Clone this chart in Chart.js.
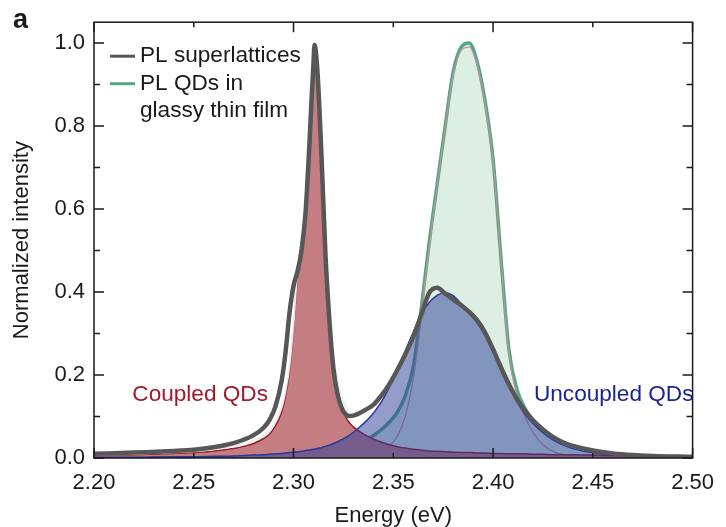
<!DOCTYPE html>
<html>
<head>
<meta charset="utf-8">
<title>PL spectra</title>
<script src="https://cdn.jsdelivr.net/npm/chart.js@4.4.1/dist/chart.umd.min.js"></script>
<style>
  html, body { margin: 0; padding: 0; background: #fff; }
</style>
</head>
<body>
<canvas id="pl-chart" width="726" height="527"></canvas>
<script>
// energy grid (eV), denser around the two peaks
const energies = [
  2.200, 2.220, 2.240, 2.250, 2.260, 2.270, 2.275, 2.280, 2.285, 2.288,
  2.291, 2.294, 2.296, 2.298, 2.300, 2.302, 2.304, 2.306, 2.308, 2.309,
  2.310, 2.3105, 2.312, 2.314, 2.316, 2.318, 2.320, 2.322, 2.324, 2.326,
  2.328, 2.330, 2.333, 2.336, 2.340, 2.344, 2.348, 2.352, 2.356, 2.360,
  2.364, 2.368, 2.372, 2.376, 2.380, 2.384, 2.388, 2.392, 2.396, 2.400,
  2.404, 2.408, 2.412, 2.416, 2.420, 2.425, 2.430, 2.435, 2.440, 2.450,
  2.460, 2.470, 2.480, 2.500
];

// PL superlattices (measured)
const plSuperlattice = [
  0.010, 0.013, 0.017, 0.020, 0.026, 0.036, 0.044, 0.055, 0.073, 0.092,
  0.125, 0.185, 0.255, 0.350, 0.415, 0.450, 0.500, 0.590, 0.760, 0.860,
  0.950, 0.995, 0.930, 0.730, 0.490, 0.330, 0.215, 0.155, 0.122, 0.106,
  0.101, 0.102, 0.108, 0.116, 0.128, 0.150, 0.178, 0.212, 0.250, 0.292,
  0.345, 0.398, 0.410, 0.396, 0.382, 0.368, 0.352, 0.332, 0.302, 0.262,
  0.218, 0.177, 0.142, 0.114, 0.091, 0.069, 0.051, 0.038, 0.029, 0.018,
  0.011, 0.007, 0.005, 0.003
];

// sum of the two fitted components
const fitSum = [
  0.008, 0.010, 0.014, 0.016, 0.021, 0.028, 0.034, 0.042, 0.055, 0.067,
  0.088, 0.121, 0.162, 0.223, 0.324, 0.455, 0.516, 0.618, 0.789, 0.890,
  0.970, 1.000, 0.950, 0.765, 0.538, 0.381, 0.250, 0.190, 0.150, 0.125,
  0.110, 0.104, 0.106, 0.114, 0.125, 0.147, 0.175, 0.209, 0.247, 0.289,
  0.342, 0.392, 0.404, 0.394, 0.380, 0.366, 0.350, 0.330, 0.300, 0.260,
  0.216, 0.175, 0.140, 0.112, 0.089, 0.067, 0.049, 0.036, 0.027, 0.016,
  0.010, 0.006, 0.004, 0.002
];

// coupled QDs component
const coupledQDs = [
  0.006, 0.008, 0.011, 0.013, 0.017, 0.023, 0.028, 0.035, 0.047, 0.058,
  0.078, 0.110, 0.150, 0.210, 0.310, 0.440, 0.500, 0.600, 0.770, 0.870,
  0.950, 0.985, 0.930, 0.740, 0.510, 0.350, 0.245, 0.170, 0.127, 0.100,
  0.085, 0.075, 0.064, 0.055, 0.046, 0.038, 0.032, 0.027, 0.024, 0.021,
  0.019, 0.017, 0.016, 0.015, 0.014, 0.013, 0.013, 0.012, 0.012, 0.011,
  0.011, 0.010, 0.010, 0.010, 0.009, 0.009, 0.008, 0.008, 0.008, 0.007,
  0.006, 0.006, 0.005, 0.005
];

// uncoupled QDs component
const uncoupledQDs = [
  0.002, 0.002, 0.003, 0.003, 0.004, 0.005, 0.006, 0.007, 0.008, 0.009,
  0.010, 0.011, 0.012, 0.013, 0.014, 0.015, 0.016, 0.018, 0.019, 0.020,
  0.021, 0.021, 0.023, 0.025, 0.028, 0.031, 0.035, 0.039, 0.044, 0.049,
  0.055, 0.062, 0.074, 0.087, 0.108, 0.135, 0.170, 0.210, 0.258, 0.303,
  0.345, 0.375, 0.392, 0.398, 0.391, 0.372, 0.350, 0.326, 0.296, 0.256,
  0.212, 0.171, 0.136, 0.106, 0.083, 0.061, 0.044, 0.032, 0.023, 0.013,
  0.008, 0.005, 0.003, 0.002
];

// PL QDs in glassy thin film (measured)
const plGlassyFilm = [
  0.002, 0.002, 0.003, 0.003, 0.004, 0.005, 0.005, 0.006, 0.007, 0.007,
  0.008, 0.008, 0.009, 0.009, 0.010, 0.011, 0.012, 0.013, 0.014, 0.014,
  0.015, 0.015, 0.016, 0.017, 0.018, 0.020, 0.022, 0.024, 0.026, 0.028,
  0.030, 0.033, 0.037, 0.043, 0.054, 0.068, 0.086, 0.110, 0.150, 0.220,
  0.360, 0.520, 0.660, 0.800, 0.930, 0.990, 1.000, 0.955, 0.860, 0.720,
  0.480, 0.260, 0.165, 0.120, 0.090, 0.066, 0.049, 0.037, 0.028, 0.017,
  0.010, 0.006, 0.004, 0.002
];

// fit of the glassy film spectrum
const glassyFit = [
  0.000, 0.000, 0.000, 0.000, 0.000, 0.000, 0.000, 0.000, 0.000, 0.000,
  0.000, 0.000, 0.000, 0.000, 0.001, 0.001, 0.001, 0.001, 0.001, 0.001,
  0.001, 0.001, 0.002, 0.002, 0.002, 0.002, 0.003, 0.003, 0.004, 0.004,
  0.005, 0.006, 0.007, 0.009, 0.013, 0.019, 0.030, 0.052, 0.100, 0.190,
  0.345, 0.510, 0.655, 0.795, 0.922, 0.982, 0.990, 0.948, 0.852, 0.715,
  0.475, 0.250, 0.150, 0.100, 0.062, 0.032, 0.016, 0.008, 0.004, 0.001,
  0.000, 0.000, 0.000, 0.000
];

const xTicks = [2.20, 2.25, 2.30, 2.35, 2.40, 2.45, 2.50];
const yTicks = [0.0, 0.2, 0.4, 0.6, 0.8, 1.0];
const yMinorTicks = [0.1, 0.3, 0.5, 0.7, 0.9];

const FONT = '"Liberation Sans", Arial, Helvetica, sans-serif';
const INK = '#1a1a1a';

const toPoints = (vals) => vals.map((v, i) => ({ x: energies[i], y: v }));

const lineBase = {
  pointRadius: 0,
  pointHoverRadius: 0,
  cubicInterpolationMode: 'monotone',
  fill: false
};

// index 0 is painted last, i.e. on top
const datasets = [
  { ...lineBase, label: ['PL superlattices'], legend: true,
    data: toPoints(plSuperlattice), borderColor: '#575757', borderWidth: 4.5 },
  { ...lineBase, label: 'Fit sum',
    data: toPoints(fitSum), borderColor: 'rgba(238,238,238,0.95)', borderWidth: 2 },
  { ...lineBase, label: 'Uncoupled QDs',
    data: toPoints(uncoupledQDs), borderColor: '#2a36a3', borderWidth: 1.5,
    fill: 'origin', backgroundColor: 'rgba(40,60,150,0.5)' },
  { ...lineBase, label: 'Coupled QDs',
    data: toPoints(coupledQDs), borderColor: '#9b1b2a', borderWidth: 1.5,
    fill: 'origin', backgroundColor: '#c47d80' },
  { ...lineBase, label: 'Glassy fit',
    data: toPoints(glassyFit), borderColor: '#c4909c', borderWidth: 1.2 },
  { ...lineBase, label: ['PL QDs in', 'glassy thin film'], legend: true,
    data: toPoints(plGlassyFilm), borderColor: '#55a885', borderWidth: 3.5,
    fill: 'origin', backgroundColor: '#dcefe2' }
];

// text placed in data coordinates
const regionLabels = [
  { text: 'Coupled QDs', x: 2.2192, y: 0.152, color: '#a3192b' },
  { text: 'Uncoupled QDs', x: 2.4205, y: 0.152, color: '#1c2490' }
];

const frameAndLabels = {
  id: 'frameAndLabels',
  afterDraw(chart) {
    const { ctx, chartArea: a, scales: { x, y } } = chart;
    ctx.save();

    // box
    ctx.strokeStyle = INK;
    ctx.lineWidth = 1.5;
    ctx.strokeRect(a.left, a.top, a.right - a.left, a.bottom - a.top);

    // inward ticks on all four sides
    ctx.beginPath();
    xTicks.forEach((v) => {
      const px = x.getPixelForValue(v);
      const len = Math.round(v * 100) % 10 === 0 ? 10 : 5;
      ctx.moveTo(px, a.bottom); ctx.lineTo(px, a.bottom - len);
      ctx.moveTo(px, a.top); ctx.lineTo(px, a.top + len);
    });
    const yTick = (v, len) => {
      const py = y.getPixelForValue(v);
      ctx.moveTo(a.left, py); ctx.lineTo(a.left + len, py);
      ctx.moveTo(a.right, py); ctx.lineTo(a.right - len, py);
    };
    yTicks.forEach((v) => yTick(v, 10));
    yMinorTicks.forEach((v) => yTick(v, 6));
    ctx.stroke();

    // legend, upper left inside the box
    ctx.font = '22.6px ' + FONT;
    ctx.textBaseline = 'middle';
    ctx.textAlign = 'left';
    let rowY = a.top + 34;
    const lx = a.left + 16;
    chart.data.datasets.filter((d) => d.legend).forEach((d) => {
      ctx.strokeStyle = d.borderColor;
      ctx.lineWidth = 3;
      ctx.beginPath();
      ctx.moveTo(lx, rowY); ctx.lineTo(lx + 25, rowY);
      ctx.stroke();
      ctx.fillStyle = INK;
      d.label.forEach((line) => {
        ctx.fillText(line, lx + 30, rowY);
        rowY += 27.5;
      });
    });

    // component names
    regionLabels.forEach((r) => {
      ctx.fillStyle = r.color;
      ctx.fillText(r.text, x.getPixelForValue(r.x), y.getPixelForValue(r.y));
    });

    // axis titles
    ctx.fillStyle = INK;
    ctx.font = '22px ' + FONT;
    ctx.textAlign = 'center';
    ctx.fillText('Energy (eV)', (a.left + a.right) / 2, 516);
    ctx.save();
    ctx.translate(22, (a.top + a.bottom) / 2);
    ctx.rotate(-Math.PI / 2);
    ctx.fillText('Normalized intensity', 0, 0);
    ctx.restore();

    // panel letter
    ctx.font = 'bold 27px ' + FONT;
    ctx.textAlign = 'left';
    ctx.textBaseline = 'alphabetic';
    ctx.fillText('a', 13, 28);

    ctx.restore();
  }
};

new Chart(document.getElementById('pl-chart'), {
  type: 'line',
  data: { datasets },
  options: {
    responsive: false,
    animation: false,
    parsing: false,
    normalized: true,
    layout: { padding: { left: 0, right: 24, top: 15, bottom: 0 } },
    plugins: { legend: { display: false }, tooltip: { enabled: false } },
    scales: {
      x: {
        type: 'linear',
        min: 2.2,
        max: 2.5,
        afterFit: (s) => { s.height = 69; },
        afterBuildTicks: (s) => { s.ticks = xTicks.map((v) => ({ value: v })); },
        grid: { display: false, drawTicks: false },
        border: { display: false },
        ticks: {
          padding: 12,
          color: INK,
          font: { family: FONT, size: 22 },
          maxRotation: 0,
          callback: (v) => Number(v).toFixed(2)
        }
      },
      y: {
        type: 'linear',
        min: 0,
        max: 1.05,
        afterFit: (s) => { s.width = 94; },
        afterBuildTicks: (s) => { s.ticks = yTicks.map((v) => ({ value: v })); },
        grid: { display: false, drawTicks: false },
        border: { display: false },
        ticks: {
          padding: 9,
          color: INK,
          font: { family: FONT, size: 22 },
          callback: (v) => Number(v).toFixed(1)
        }
      }
    }
  },
  plugins: [frameAndLabels]
});
</script>
</body>
</html>
